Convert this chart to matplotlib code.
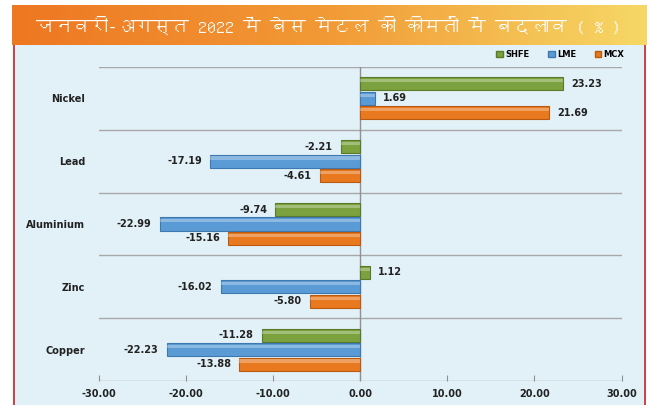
import matplotlib

matplotlib.use("Agg")
import matplotlib.pyplot as plt
import numpy as np
from matplotlib import font_manager
from matplotlib.colors import LinearSegmentedColormap
from matplotlib.patches import Rectangle

TITLE = "जनवरी-अगस्त 2022 में बेस मेटल की कीमतों में बदलाव ( % )"
METALS = ["Nickel", "Lead", "Aluminium", "Zinc", "Copper"]
SERIES = ["SHFE", "LME", "MCX"]
SHFE = [23.23, -2.21, -9.74, 1.12, -11.28]
LME = [1.69, -17.19, -22.99, -16.02, -22.23]
MCX = [21.69, -4.61, -15.16, -5.80, -13.88]
XTICKS = [-30, -20, -10, 0, 10, 20, 30]

COLORS = ["#7ba23f", "#5b9bd5", "#e8791f"]
EDGES = ["#5a7a2a", "#3d78b0", "#b95a10"]
PANEL = "#e2f1f8"


def devanagari_family():
    """Pick an installed font that has Devanagari glyphs, if there is one."""
    for f in font_manager.fontManager.ttflist:
        try:
            font = matplotlib.ft2font.FT2Font(f.fname)
            if 0x915 in font.get_charmap():
                return f.name
        except Exception:
            continue
    return "DejaVu Sans"


fig = plt.figure(figsize=(6.55, 4.05), dpi=100)
fig.patch.set_facecolor("white")

# light blue panel with red side borders
panel = fig.add_axes([0.02, 0.0, 0.966, 0.89])
panel.set_xlim(0, 1)
panel.set_ylim(0, 1)
panel.axis("off")
panel.add_patch(Rectangle((0, 0), 1, 1, facecolor=PANEL, edgecolor="none"))
panel.plot([0.002, 0.002], [0, 1], color="#d02020", lw=1.2)
panel.plot([0.998, 0.998], [0, 1], color="#d02020", lw=1.2)

# orange gradient title banner
banner = fig.add_axes([0.018, 0.888, 0.968, 0.1])
banner.axis("off")
cmap = LinearSegmentedColormap.from_list("banner", ["#ee7722", "#f29a36", "#f6d866"])
banner.imshow(np.linspace(0, 1, 256)[None, :], aspect="auto", cmap=cmap,
              extent=[0, 1, 0, 1])
banner.set_xlim(0, 1)
banner.set_ylim(0, 1)
banner.text(0.5, 0.5, TITLE, color="white", fontsize=13, ha="center", va="center",
            family=[devanagari_family(), "DejaVu Sans"])

ax = fig.add_axes([0.151, 0.059, 0.798, 0.776])
ax.set_facecolor("none")
ax.set_xlim(-30, 30)
ax.set_ylim(len(METALS), 0)

centers = np.arange(len(METALS)) + 0.5
offsets = [-0.23, 0.0, 0.23]
for values, off, color, edge in zip([SHFE, LME, MCX], offsets, COLORS, EDGES):
    y = centers + off
    ax.barh(y, values, height=0.21, color=color, edgecolor=edge, linewidth=0.8, zorder=3)
    # light highlight along the top of each bar for the bevelled look
    ax.barh(y - 0.05, values, height=0.05, color="white", alpha=0.3, linewidth=0, zorder=4)
    for yy, v in zip(y, values):
        ax.annotate(f"{v:.2f}", (v, yy), xytext=(6 if v >= 0 else -6, 0),
                    textcoords="offset points", ha="left" if v >= 0 else "right",
                    va="center", fontsize=7, fontweight="bold", color="#222222")

for b in range(len(METALS) + 1):
    ax.axhline(b, color="#a8a8a8", lw=1.0, zorder=1)
ax.axvline(0, color="#909090", lw=1.0, zorder=2)

for s in ax.spines.values():
    s.set_visible(False)
ax.set_yticks(centers, METALS)
ax.tick_params(axis="y", length=0, pad=10, labelsize=7)
ax.set_xticks(XTICKS, [f"{t:.2f}" for t in XTICKS])
ax.tick_params(axis="x", direction="in", length=4, color="#909090", pad=6, labelsize=7)
for lbl in ax.get_xticklabels() + ax.get_yticklabels():
    lbl.set_fontweight("bold")
    lbl.set_color("#222222")

# legend across the top right
handles = [Rectangle((0, 0), 1, 1, facecolor=c, edgecolor=e) for c, e in zip(COLORS, EDGES)]
fig.legend(handles, SERIES, loc="center right", bbox_to_anchor=(0.965, 0.865), ncol=3,
           frameon=False, prop={"weight": "bold", "size": 6},
           handlelength=0.8, handleheight=0.8, handletextpad=0.3, columnspacing=2.2)

fig.savefig("out.png", dpi=100)
